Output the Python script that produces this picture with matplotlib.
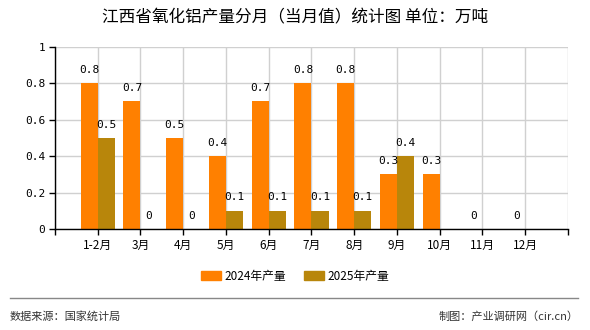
import matplotlib
matplotlib.use("Agg")
import matplotlib.pyplot as plt
from matplotlib.lines import Line2D
from matplotlib.patches import Patch

plt.rcParams['font.family'] = ['Noto Sans CJK SC', 'DejaVu Sans']

# data
months = ['1-2月', '3月', '4月', '5月', '6月', '7月', '8月', '9月', '10月', '11月', '12月']
prod_2024 = [0.8, 0.7, 0.5, 0.4, 0.7, 0.8, 0.8, 0.3, 0.3, 0, 0]
prod_2025 = [0.5, 0, 0, 0.1, 0.1, 0.1, 0.1, 0.4]
y_ticks = [0, 0.2, 0.4, 0.6, 0.8, 1]
y_tick_labels = ['0', '0.2', '0.4', '0.6', '0.8', '1']

c2024 = '#ff8000'
c2025 = '#b8860b'
w = 0.4

fig = plt.figure(figsize=(5.9, 3.3), dpi=100)
ax = fig.add_axes([0.0932, 0.3061, 0.8695, 0.5524])

x24 = [i + 1 for i in range(len(prod_2024))]
x25 = [i + 1 for i in range(len(prod_2025))]
ax.bar([x - w / 2 for x in x24], prod_2024, width=w, color=c2024, zorder=3)
ax.bar([x + w / 2 for x in x25], prod_2025, width=w, color=c2025, zorder=3)

# value labels
for x, v in zip(x24, prod_2024):
    ax.annotate(f'{v:g}', (x - w / 2, v), xytext=(0, 6), textcoords='offset points',
                ha='center', va='bottom', fontsize=8, family='DejaVu Sans Mono', zorder=4)
for x, v in zip(x25, prod_2025):
    ax.annotate(f'{v:g}', (x + w / 2, v), xytext=(0, 6), textcoords='offset points',
                ha='center', va='bottom', fontsize=8, family='DejaVu Sans Mono', zorder=4)

ax.set_xlim(0, len(months) + 1)
ax.set_ylim(0, 1)
ax.set_xticks(range(0, len(months) + 2))
ax.set_xticklabels([''] + months + [''], fontsize=8.5)
ax.set_yticks(y_ticks)
ax.set_yticklabels(y_tick_labels, fontsize=8, family='DejaVu Sans Mono')
ax.tick_params(axis='both', length=4, width=1, color='black', pad=3)
ax.grid(True, color='#d0d0d0', linewidth=1, zorder=0)
for s in ['top', 'right']:
    ax.spines[s].set_visible(False)
for s in ['left', 'bottom']:
    ax.spines[s].set_color('black')
    ax.spines[s].set_linewidth(1)
    ax.spines[s].set_zorder(5)

fig.text(0.5, 0.945, '江西省氧化铝产量分月（当月值）统计图 单位：万吨',
         ha='center', va='center', fontsize=12)

handles = [Patch(color=c2024, label='2024年产量'), Patch(color=c2025, label='2025年产量')]
fig.legend(handles=handles, loc='center', bbox_to_anchor=(0.5, 0.163), ncol=2,
           frameon=False, fontsize=8.5, handlelength=1.7, handleheight=0.8,
           handletextpad=0.3, columnspacing=1.5)

fig.add_artist(Line2D([0.017, 0.98], [0.097, 0.097], color='#888888', linewidth=1))
fig.text(0.017, 0.042, '数据来源：国家统计局', ha='left', va='center', fontsize=8, color='#333333')
fig.text(0.98, 0.042, '制图：产业调研网（cir.cn）', ha='right', va='center', fontsize=8, color='#333333')

fig.savefig('out.png', dpi=100)
